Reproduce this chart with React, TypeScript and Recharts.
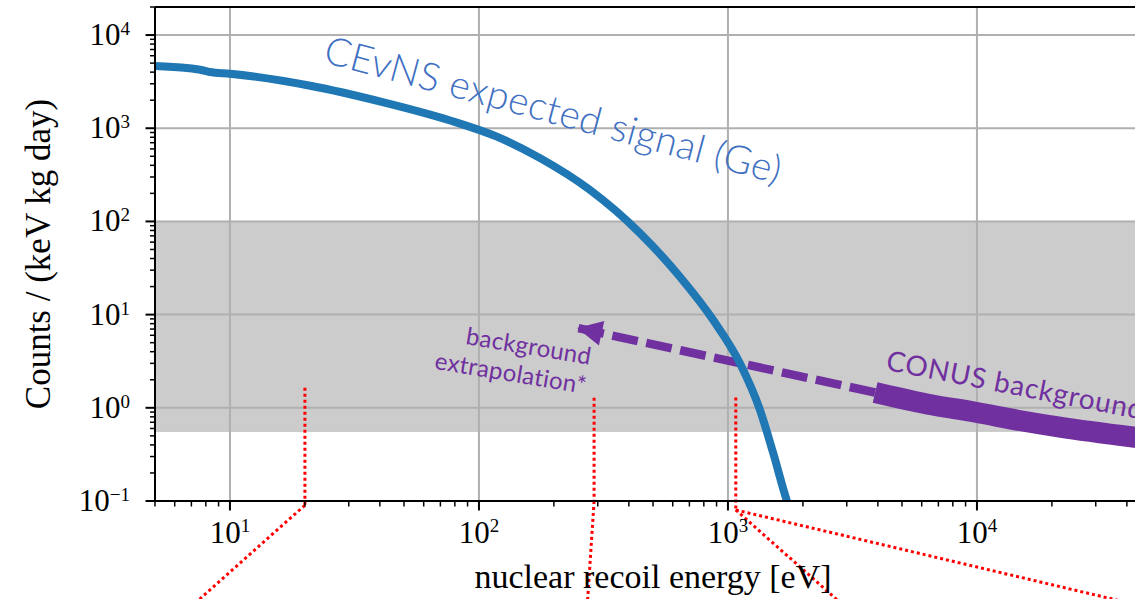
import React from "react";
import { LineChart, Line, XAxis, YAxis, ReferenceArea, ReferenceLine, ReferenceDot } from "recharts";

// nuclear recoil energy [eV]
const signalX = [5, 7.6, 8.3, 10, 21, 41, 76, 118, 176, 279, 443, 641, 871, 1117, 1344, 1518, 1725, 1790];
// counts / (keV kg day)
const signalY = [4645, 4250, 4020, 3850, 2860, 1910, 1220, 813, 478, 218, 75, 25.5, 8.8, 3.0, 0.95, 0.33, 0.1, 0.075];

const conusX = [3900, 6300, 10000, 15000, 21500, 43100, 50000];
const conusY = [1.46, 1.1, 0.89, 0.726, 0.62, 0.483, 0.46];

const extrapX = [3900, 248];
const extrapY = [1.46, 7.2];

const bandLow = 0.56;
const bandHigh = 100;

const xMajor = [10, 100, 1000, 10000];
const xMajorLabels = ["1", "2", "3", "4"];
const xMinor = [5, 6, 7, 8, 9, 20, 30, 40, 50, 60, 70, 80, 90, 200, 300, 400, 500, 600, 700, 800, 900,
  2000, 3000, 4000, 5000, 6000, 7000, 8000, 9000, 20000, 30000, 40000, 50000];

const yMajor = [0.1, 1, 10, 100, 1000, 10000];
const yMajorLabels = ["\u22121", "0", "1", "2", "3", "4"];
const yMinor = [0.2, 0.3, 0.4, 0.5, 0.6, 0.7, 0.8, 0.9, 2, 3, 4, 5, 6, 7, 8, 9, 20, 30, 40, 50, 60, 70, 80, 90,
  200, 300, 400, 500, 600, 700, 800, 900, 2000, 3000, 4000, 5000, 6000, 7000, 8000, 9000, 20000];

// zoom connector lines (red dotted), each a pair of [x, y] points
const zoomLinks = [
  [[20, 1.64], [20, 0.09]],
  [[20, 0.09], [7.42, 0.0085]],
  [[290, 1.28], [290, 0.1]],
  [[290, 0.1], [273, 0.0085]],
  [[1075, 1.29], [1075, 0.0801]],
  [[1075, 0.0801], [37460, 0.0085]],
  [[1075, 0.0801], [2771, 0.0085]],
];

const signal = signalX.map((x, i) => ({ x, y: signalY[i] }));
const conus = conusX.map((x, i) => ({ x, y: conusY[i] }));
const extrap = extrapX.map((x, i) => ({ x, y: extrapY[i] }));

const PURPLE = "#7030a0";
const SERIF = "'Liberation Serif', 'DejaVu Serif', serif";
const SANS = "Lato, 'Open Sans', sans-serif";

const XTick = (props: any) => {
  const { x, y, payload } = props;
  const i = xMajor.indexOf(payload.value);
  if (i < 0) {
    return <line x1={x} x2={x} y1={y} y2={y + 5.5} stroke="#000" strokeWidth={1.5} />;
  }
  return (
    <g>
      <line x1={x} x2={x} y1={y} y2={y + 9.5} stroke="#000" strokeWidth={2} />
      <text x={x} y={y + 42} textAnchor="middle" fontFamily={SERIF} fontSize={31} fill="#000">
        <tspan>10</tspan>
        <tspan dy={-11} fontSize={19}>{xMajorLabels[i]}</tspan>
      </text>
    </g>
  );
};

const YTick = (props: any) => {
  const { x, y, payload } = props;
  const i = yMajor.indexOf(payload.value);
  if (i < 0) {
    return <line x1={x - 5} x2={x} y1={y} y2={y} stroke="#000" strokeWidth={1.5} />;
  }
  return (
    <g>
      <line x1={x - 9.5} x2={x} y1={y} y2={y} stroke="#000" strokeWidth={2} />
      <text x={x - 25} y={y + 10} textAnchor="end" fontFamily={SERIF} fontSize={31} fill="#000">
        <tspan>10</tspan>
        <tspan dy={-10} fontSize={19}>{yMajorLabels[i]}</tspan>
      </text>
    </g>
  );
};

const XTitle = (props: any) => {
  const { viewBox } = props;
  return (
    <text x={viewBox.x + viewBox.width / 2} y={viewBox.y + 87} textAnchor="middle"
      fontFamily={SERIF} fontSize={34} fill="#000">
      nuclear recoil energy [eV]
    </text>
  );
};

const YTitle = (props: any) => {
  const { viewBox } = props;
  return (
    <text transform={`translate(${viewBox.x + 50},${viewBox.y + viewBox.height / 2}) rotate(-90)`}
      textAnchor="middle" fontFamily={SERIF} fontSize={35} fill="#000">
      Counts / (keV kg day)
    </text>
  );
};

const Annot = (props: any) => {
  const { viewBox, rows, tilt, align, fs, col, gap, spacing, weight } = props;
  return (
    <text transform={`translate(${viewBox.x},${viewBox.y}) rotate(${tilt})`} textAnchor={align}
      fontFamily={SANS} fontWeight={weight || 400} fontSize={fs} fill={col} letterSpacing={spacing || 0}>
      {rows.map((l: string, i: number) => (
        <tspan key={i} x={0} dy={i === 0 ? 0 : gap}>{l}</tspan>
      ))}
    </text>
  );
};

const ArrowDot = (props: any) => {
  const { cx, cy, index } = props;
  if (index !== 1) return <g key={`a${index}`} />;
  return (
    <polygon key={`a${index}`} points="0,0 25,-12.5 25,12.5" fill={PURPLE}
      transform={`translate(${cx},${cy}) rotate(12.4)`} />
  );
};

export default function App() {
  return (
    <div style={{ position: "fixed", left: 0, top: 0, width: 1135, height: 599, overflow: "hidden", background: "#fff" }}>
      <LineChart width={1160} height={599} margin={{ top: 7, right: 9, left: 0, bottom: 0 }}>
        <XAxis dataKey="x" type="number" scale="log" domain={[5, 50000]} allowDataOverflow
          ticks={[...xMinor, ...xMajor]} interval={0} tickSize={0} tickMargin={0} tickLine={false}
          axisLine={{ stroke: "#000", strokeWidth: 2 }} height={98} tick={<XTick />} label={<XTitle />} />
        <YAxis type="number" scale="log" domain={[0.1, 20000]} allowDataOverflow
          ticks={[...yMinor, ...yMajor]} interval={0} tickSize={0} tickMargin={0} tickLine={false}
          axisLine={{ stroke: "#000", strokeWidth: 2 }} width={155} tick={<YTick />} label={<YTitle />} />

        <ReferenceArea y1={bandLow} y2={bandHigh} fill="#cccccc" fillOpacity={1} stroke="#c2c2c2" strokeWidth={1} ifOverflow="hidden" />

        {xMajor.map((v) => (
          <ReferenceLine key={`gx${v}`} x={v} stroke="#b0b0b0" strokeWidth={2} />
        ))}
        {yMajor.slice(1).map((v) => (
          <ReferenceLine key={`gy${v}`} y={v} stroke="#b0b0b0" strokeWidth={2} />
        ))}
        <ReferenceLine y={20000} stroke="#000" strokeWidth={2.2} />

        <Line data={extrap} dataKey="y" type="linear" stroke={PURPLE} strokeWidth={8.5}
          strokeDasharray="26 8.7" dot={<ArrowDot />} activeDot={false} isAnimationActive={false} />
        <Line data={conus} dataKey="y" type="monotone" stroke={PURPLE} strokeWidth={21}
          strokeLinecap="butt" dot={false} activeDot={false} isAnimationActive={false} />
        <Line data={signal} dataKey="y" type="monotone" stroke="#1f77b4" strokeWidth={8}
          strokeLinejoin="round" dot={false} activeDot={false} isAnimationActive={false} />

        {zoomLinks.map((s, i) => (
          <ReferenceLine key={`z${i}`} segment={[{ x: s[0][0], y: s[0][1] }, { x: s[1][0], y: s[1][1] }]}
            stroke="#ff0000" strokeWidth={3} strokeDasharray="3 3" ifOverflow="visible" />
        ))}

        <ReferenceDot x={23.4} y={5140} r={0} fill="none" stroke="none"
          label={<Annot rows={["CEvNS expected signal (Ge)"]} tilt={15} align="start" fs={39} weight={300} spacing={0.3} col="#3f70c2" />} />
        <ReferenceDot x={4272} y={2.56} r={0} fill="none" stroke="none"
          label={<Annot rows={["CONUS background"]} tilt={11} align="start" fs={28} spacing={0.8} col={PURPLE} />} />
        <ReferenceDot x={279} y={2.89} r={0} fill="none" stroke="none"
          label={<Annot rows={["background", "extrapolation*"]} tilt={9.5} align="end" fs={24} spacing={0.3} gap={29.5} col={PURPLE} />} />
      </LineChart>
    </div>
  );
}
